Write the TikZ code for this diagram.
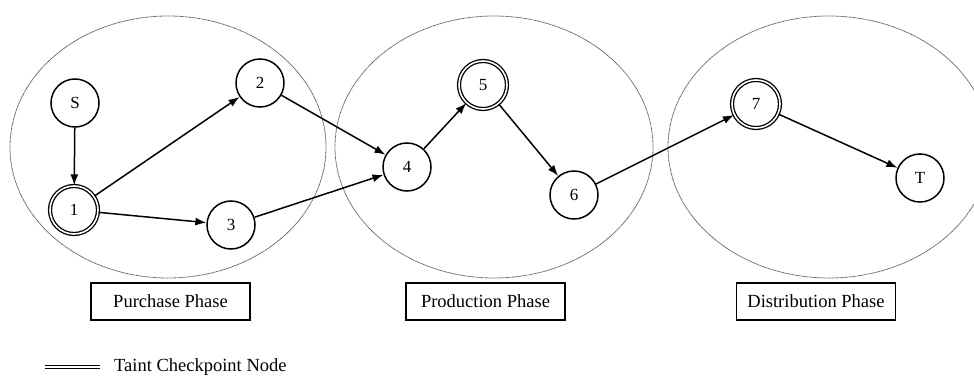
\documentclass[tikz,border=0pt]{standalone}
\usepackage{fontspec}
\setmainfont{Liberation Serif}
\usetikzlibrary{arrows.meta}
\begin{document}
\begin{tikzpicture}[x=1pt,y=-1pt,
  phase/.style={draw=black!65, line width=0.8pt, dash pattern=on 0.8pt off 0.5pt},
  state/.style={circle, draw, line width=1.5pt, minimum size=48pt, inner sep=0pt, font=\fontsize{17}{17}\selectfont},
  checkpoint/.style={state, double, double distance=1.6pt, line width=1.3pt},
  flow/.style={line width=1.5pt, -{Latex[length=11pt,width=8pt]}},
  phasebox/.style={draw, line width=1.3pt, minimum width=159pt, minimum height=37pt, inner sep=0pt, font=\fontsize{18.5}{18.5}\selectfont}]
\useasboundingbox (0,0) rectangle (974,377);

% phase regions
\draw[phase] (168,147) ellipse [x radius=158, y radius=131];
\draw[phase] (494,147) ellipse [x radius=159, y radius=131];
\draw[phase] (829,147) ellipse [x radius=161, y radius=131];

% nodes
\node[state] (S) at (75,103) {S};
\node[checkpoint] (n1) at (74,210) {1};
\node[state] (n2) at (260,83) {2};
\node[state] (n3) at (231,225) {3};
\node[state] (n4) at (407,167) {4};
\node[checkpoint] (n5) at (483,85) {5};
\node[state] (n6) at (574,195) {6};
\node[checkpoint] (n7) at (756,104) {7};
\node[state] (T) at (920,178) {T};

% transitions
\draw[flow] (S) -- (n1);
\draw[flow] (n1) -- (n2);
\draw[flow] (n1) -- (n3);
\draw[flow] (n2) -- (n4);
\draw[flow] (n3) -- (n4);
\draw[flow] (n4) -- (n5);
\draw[flow] (n5) -- (n6);
\draw[flow] (n6) -- (n7);
\draw[flow] (n7) -- (T);

% phase labels
\node[phasebox] (pp) at (170.5,301.5) {Purchase Phase};
\node[phasebox] (pr) at (485.5,301.5) {Production Phase};
\node[phasebox] (pd) at (816,301.5) {Distribution Phase};

% legend
\coordinate (la) at (45,367);
\coordinate (lb) at (100,367);
\draw[line width=1.4pt, double, double distance=1.6pt] (la) -- (lb);
\node[anchor=west, inner sep=0pt, font=\fontsize{18.5}{18.5}\selectfont] (lt) at (114,367) {Taint Checkpoint Node};
\end{tikzpicture}
\end{document}
